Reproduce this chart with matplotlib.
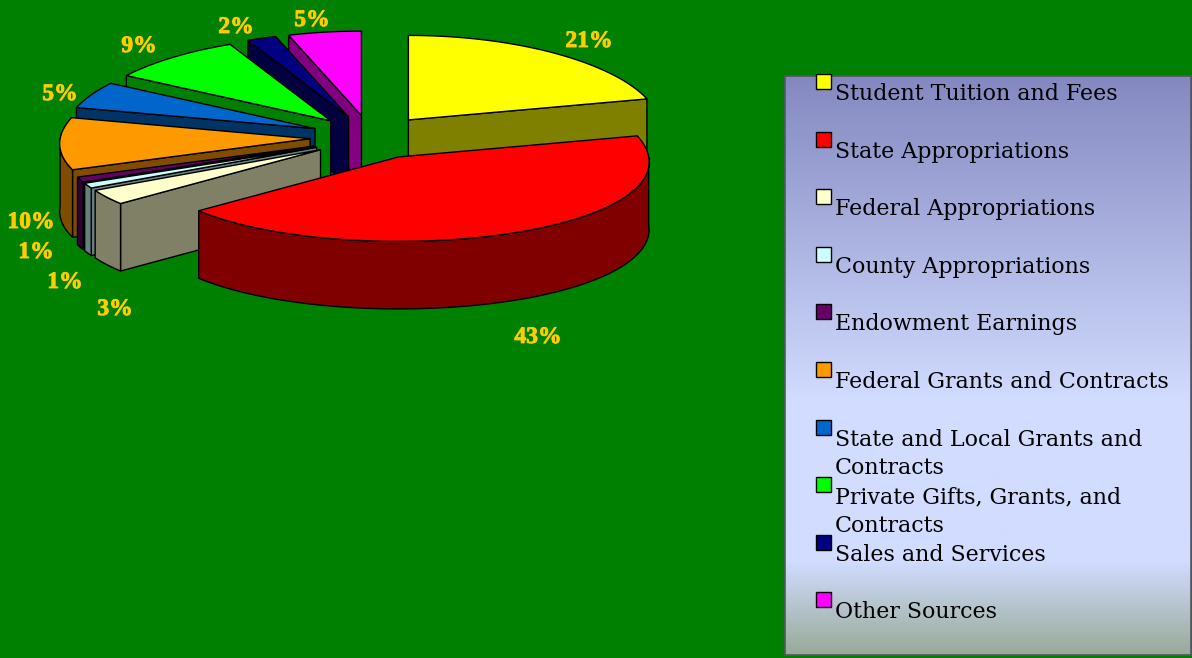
import numpy as np
import matplotlib
matplotlib.use("Agg")
import matplotlib.pyplot as plt
import matplotlib.patheffects as pe
from matplotlib.patches import Polygon, Rectangle

# Fuentes de ingresos (porcentajes)
categories = ["Student Tuition and Fees", "State Appropriations", "Federal Appropriations",
              "County Appropriations", "Endowment Earnings", "Federal Grants and Contracts",
              "State and Local Grants and\nContracts", "Private Gifts, Grants, and\nContracts",
              "Sales and Services", "Other Sources"]
values = [21, 43, 3, 1, 1, 10, 5, 9, 2, 5]
top_colors = ["#FFFF00", "#FF0000", "#FFFFCC", "#CCFFFF", "#660066",
              "#FF9900", "#0066CC", "#00FF00", "#000080", "#FF00FF"]

# Posición de las etiquetas de porcentaje
label_pos = [(589, 41.5), (538, 337.5), (115, 309.5), (65, 282.5), (36, 252.5),
             (31, 222.5), (60, 94.5), (139, 46.5), (236, 27.5), (312, 20.5)]

BG = "#008000"
CX, CY = 371, 137.3     # centro de la torta
A, B = 250, 84.5        # semiejes de la elipse
PERSP = 0.06            # el borde trasero se ve más angosto
DEPTH = 67.5            # grosor
EXPLODE_X, EXPLODE_Y = 61, 22


def rim(center, theta):
    # theta en grados, 0 arriba y sentido horario
    t = np.radians(theta)
    a = A * (1 - PERSP * np.cos(t))
    return np.column_stack([center[0] + a * np.sin(t), center[1] - B * np.cos(t)])


def darker(color):
    rgb = np.array(matplotlib.colors.to_rgb(color))
    return tuple(rgb * 0.5)


def draw_slice(ax, start, end, color, z):
    mid = (start + end) / 2
    center = (CX + EXPLODE_X * np.sin(np.radians(mid)),
              CY - EXPLODE_Y * np.cos(np.radians(mid)))
    arc_t = np.linspace(start, end, 80)
    arc = rim(center, arc_t)
    side = darker(color)
    down = np.array([0, DEPTH])
    apex = np.array(center)

    # paredes radiales que miran al frente
    mid_pt = rim(center, np.array([mid]))[0]
    for ang in (start, end):
        p = rim(center, np.array([ang]))[0]
        d = p - apex
        if abs(d[0]) < 1e-6:
            continue
        line_y = apex[1] + d[1] * (mid_pt[0] - apex[0]) / d[0]
        if mid_pt[1] < line_y:
            ax.add_patch(Polygon([apex, p, p + down, apex + down], closed=True,
                                 fc=side, ec="black", lw=1, zorder=z))

    # pared exterior, solo la mitad frontal
    lo, hi = max(start, 90), min(end, 270)
    if lo < hi:
        front = rim(center, np.linspace(lo, hi, 80))
        ax.add_patch(Polygon(np.vstack([front, (front + down)[::-1]]), closed=True,
                             fc=side, ec="black", lw=1, zorder=z))

    # cara superior
    ax.add_patch(Polygon(np.vstack([apex, arc]), closed=True,
                         fc=color, ec="black", lw=1, zorder=z + 0.5))


fig = plt.figure(figsize=(11.92, 6.58), dpi=100, facecolor=BG)
ax = fig.add_axes([0, 0, 1, 1])
ax.axis("off")

# Caja de la leyenda con degradado
stops_y = [0, 0.56, 0.84, 1]
stops_c = np.array([[132, 136, 192], [209, 220, 255], [209, 220, 255], [152, 170, 152]]) / 255
yy = np.linspace(0, 1, 300)
grad = np.column_stack([np.interp(yy, stops_y, stops_c[:, k]) for k in range(3)])
ax.imshow(grad[:, None, :], extent=(785, 1191, 655, 76), aspect="auto", zorder=1)
ax.set_xlim(0, 1192)
ax.set_ylim(658, 0)
ax.add_patch(Rectangle((785, 76), 406, 579, fc="none", ec="#555566", lw=1.2, zorder=2))

# Torta: se dibuja de atrás hacia adelante
edges = np.cumsum([0] + values) / sum(values) * 360
mids = (edges[:-1] + edges[1:]) / 2
order = np.argsort(-np.cos(np.radians(mids)))
for z, i in enumerate(order):
    draw_slice(ax, edges[i], edges[i + 1], top_colors[i], 2 + z)

for val, (x, y) in zip(values, label_pos):
    ax.text(x, y, f"{val}%", color="#FFCC00", fontsize=17, fontweight="bold",
            family="Liberation Serif", ha="center", va="center", zorder=30,
            path_effects=[pe.withStroke(linewidth=0.6, foreground="#FFCC00")])

# Entradas de la leyenda
for n, (name, color) in enumerate(zip(categories, top_colors)):
    y0 = 74 + n * 57.6
    ax.add_patch(Rectangle((816, y0), 15, 15, fc=color, ec="black", lw=1, zorder=3))
    for k, line in enumerate(name.split("\n")):
        ax.text(835, y0 + 26 + k * 28.7, line, color="black", fontsize=15.9,
                family="DejaVu Serif", ha="left", va="baseline", zorder=3)

fig.savefig("out.png", dpi=100, facecolor=BG)
